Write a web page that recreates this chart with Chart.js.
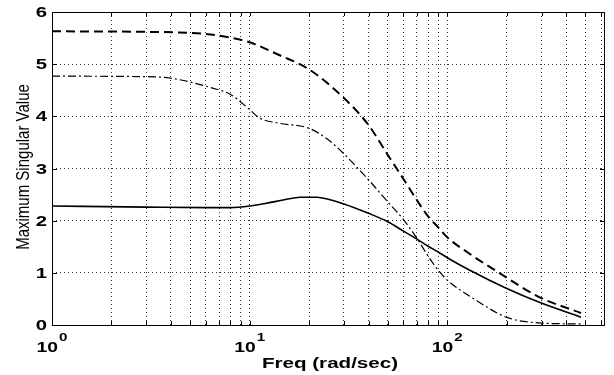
<!DOCTYPE html>
<html>
<head>
<meta charset="utf-8">
<script src="https://cdn.jsdelivr.net/npm/chart.js@4"></script>
<style>
  html, body { margin: 0; padding: 0; background: #fff; }
  #wrap { width: 614px; height: 375px; }
</style>
</head>
<body>
<div id="wrap"><canvas id="chart"></canvas></div>
<script>
// Data
const solidFreq = [1, 3, 6, 8, 10, 12, 15, 18, 22, 25, 30, 40, 50, 60, 70, 80, 90, 100, 130, 200, 290, 475];
const solidVal  = [2.28, 2.26, 2.25, 2.25, 2.28, 2.33, 2.40, 2.45, 2.45, 2.41, 2.32, 2.14, 1.98, 1.80, 1.65, 1.51, 1.40, 1.29, 1.05, 0.70, 0.44, 0.15];

const dashFreq = [1, 3, 5, 6, 8, 10, 14, 20, 30, 40, 50, 60, 70, 80, 90, 100, 128, 183, 290, 475];
const dashVal  = [5.63, 5.62, 5.60, 5.58, 5.51, 5.42, 5.18, 4.90, 4.35, 3.83, 3.26, 2.80, 2.40, 2.08, 1.87, 1.68, 1.38, 1.00, 0.54, 0.23];

const dotFreq = [1, 3, 4, 6.5, 8, 10, 11.2, 14, 20, 25, 30, 40, 50, 60, 70, 80, 90, 100, 134, 199, 290, 475];
const dotVal  = [4.77, 4.76, 4.73, 4.54, 4.42, 4.13, 3.97, 3.87, 3.77, 3.55, 3.28, 2.78, 2.36, 2.02, 1.67, 1.32, 1.05, 0.86, 0.52, 0.15, 0.04, 0.02];

const xTicks = [1,2,3,4,5,6,7,8,9,10,20,30,40,50,60,70,80,90,100,200,300,400,500,600];
const yTicks = [0, 1, 2, 3, 4, 5, 6];
const decades = [[1, '0'], [10, '1'], [100, '2']];

const pts = (xs, ys) => xs.map((x, i) => ({ x: x, y: ys[i] }));

// stretched text, like the wide Helvetica of the original
function wideText(ctx, text, x, y, font, sx, align) {
  ctx.save();
  ctx.font = font;
  ctx.translate(x, y);
  ctx.scale(sx, 1);
  ctx.textAlign = align;
  ctx.fillText(text, 0, 0);
  ctx.restore();
}

const frameAndText = {
  id: 'frameAndText',
  afterDraw(chart) {
    const { ctx, chartArea: a } = chart;
    const xs = chart.scales.x, ys = chart.scales.y;
    ctx.save();
    ctx.strokeStyle = '#000';
    ctx.lineWidth = 1;
    ctx.strokeRect(a.left + 0.5, a.top + 0.5, a.right - a.left - 1, a.bottom - a.top);

    // small inward ticks
    ctx.beginPath();
    xTicks.forEach(v => {
      const px = Math.round(xs.getPixelForValue(v)) + 0.5;
      ctx.moveTo(px, a.bottom); ctx.lineTo(px, a.bottom - 4);
      ctx.moveTo(px, a.top); ctx.lineTo(px, a.top + 4);
    });
    yTicks.forEach(v => {
      const py = Math.round(ys.getPixelForValue(v)) + 0.5;
      ctx.moveTo(a.left, py); ctx.lineTo(a.left + 5, py);
      ctx.moveTo(a.right, py); ctx.lineTo(a.right - 5, py);
    });
    ctx.stroke();

    ctx.fillStyle = '#000';
    ctx.textBaseline = 'alphabetic';
    // y tick labels
    yTicks.forEach(v => {
      wideText(ctx, String(v), 47, ys.getPixelForValue(v) + 5, 'bold 14px "Liberation Sans"', 1.45, 'right');
    });
    // x decade labels: 10 with superscript
    decades.forEach(([v, p]) => {
      const cx = xs.getPixelForValue(v);
      ctx.font = 'bold 14px "Liberation Sans"';
      const w1 = ctx.measureText('10').width * 1.38;
      ctx.font = 'bold 11px "Liberation Sans"';
      const w2 = ctx.measureText(p).width * 1.38;
      const left = cx - (w1 + w2 + 1) / 2;
      wideText(ctx, '10', left, 352, 'bold 14px "Liberation Sans"', 1.38, 'left');
      wideText(ctx, p, left + w1 + 1, 341, 'bold 11px "Liberation Sans"', 1.38, 'left');
    });
    // axis titles
    wideText(ctx, 'Freq (rad/sec)', 330, 368, 'bold 14px "Liberation Sans"', 1.47, 'center');
    ctx.save();
    ctx.translate(29, 167);
    ctx.rotate(-Math.PI / 2);
    ctx.scale(1, 1.25);
    ctx.font = '15px "Liberation Sans"';
    ctx.textAlign = 'center';
    ctx.fillText('Maximum Singular Value', 0, 0);
    ctx.restore();
    ctx.restore();
  }
};

new Chart(document.getElementById('chart'), {
  type: 'line',
  data: {
    datasets: [
      {
        data: pts(solidFreq, solidVal),
        borderColor: '#000',
        borderWidth: 1.6,
        pointRadius: 0,
        cubicInterpolationMode: 'monotone'
      },
      {
        data: pts(dashFreq, dashVal),
        borderColor: '#000',
        borderWidth: 2,
        borderDash: [9, 5],
        pointRadius: 0,
        cubicInterpolationMode: 'monotone'
      },
      {
        data: pts(dotFreq, dotVal),
        borderColor: '#000',
        borderWidth: 1.2,
        borderDash: [8, 3, 2, 3],
        pointRadius: 0,
        cubicInterpolationMode: 'monotone'
      }
    ]
  },
  options: {
    responsive: true,
    maintainAspectRatio: false,
    animation: false,
    layout: { padding: { top: 12, right: 9, left: 0, bottom: 0 } },
    plugins: { legend: { display: false }, tooltip: { enabled: false } },
    scales: {
      x: {
        type: 'logarithmic',
        min: 1,
        max: 628,
        afterBuildTicks: s => { s.ticks = xTicks.map(v => ({ value: v })); },
        afterFit: s => { s.height = 50; },
        grid: { color: '#333', lineWidth: 1, drawTicks: false },
        border: { display: false, dash: [1, 3] },
        ticks: { display: false }
      },
      y: {
        min: 0,
        max: 6,
        afterBuildTicks: s => { s.ticks = yTicks.map(v => ({ value: v })); },
        afterFit: s => { s.width = 52; },
        grid: { color: '#333', lineWidth: 1, drawTicks: false },
        border: { display: false, dash: [1, 3] },
        ticks: { display: false }
      }
    }
  },
  plugins: [frameAndText]
});
</script>
</body>
</html>
